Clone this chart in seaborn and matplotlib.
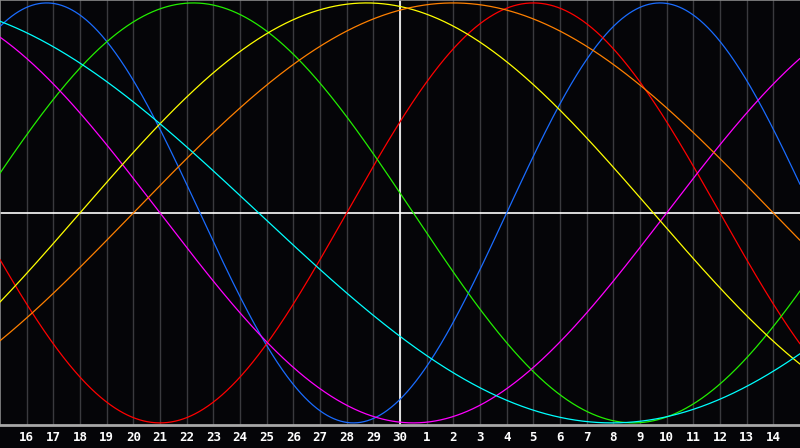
import numpy as np
import pandas as pd
import matplotlib
matplotlib.use("Agg")
import matplotlib.pyplot as plt
import seaborn as sns

# Biorhythm cycles (period in days, and day-in-cycle at the left edge of the chart)
cycles = ["Physical", "Emotional", "Intellectual", "Intuitive", "Aesthetic", "Awareness", "Spiritual"]
periods = [23, 28, 33, 38, 43, 48, 53]
phase_at_start = [4, 15, 1, 13, 40, 43, 16.8]
colors = ["#1a6cff", "#ff0000", "#22ee00", "#ff00ff", "#ffff00", "#ff8000", "#00ffff"]

day_labels = ["16", "17", "18", "19", "20", "21", "22", "23", "24", "25", "26", "27", "28", "29", "30",
              "1", "2", "3", "4", "5", "6", "7", "8", "9", "10", "11", "12", "13", "14"]
span_days = 30
today_index = 15

sns.set_theme(style="dark")
plt.rcParams["font.family"] = ["DejaVu Sans Mono", "DejaVu Sans"]

t = np.linspace(0, span_days, 1201)
rows = []
for name, p, ph in zip(cycles, periods, phase_at_start):
    v = np.sin(2 * np.pi * (ph + t) / p)
    rows.append(pd.DataFrame({"day": t, "value": v, "cycle": name}))
df = pd.concat(rows, ignore_index=True)

bg = "#050508"
fig = plt.figure(figsize=(8, 4.48), dpi=100, facecolor=bg)
ax = fig.add_axes([0, 23 / 448, 1, 425 / 448])
ax.set_facecolor(bg)

for i in range(1, span_days):
    ax.axvline(i, color="#3a3a3e", lw=1.0, zorder=1)
ax.axvline(today_index, color="white", lw=1.2, zorder=2)
ax.axhline(0, color="white", lw=1.2, zorder=2)

sns.lineplot(data=df, x="day", y="value", hue="cycle", palette=dict(zip(cycles, colors)),
             hue_order=cycles, linewidth=0.9, legend=False, ax=ax, zorder=3, estimator=None, sort=False)

ax.set_xlim(0, span_days)
ax.set_ylim(-1.01, 1.014)
ax.set_xticks(range(1, span_days))
ax.set_xticklabels(day_labels, color="white", fontsize=9, fontweight="bold")
ax.tick_params(axis="x", length=0, pad=4)
ax.set_yticks([])
ax.set_xlabel("")
ax.set_ylabel("")
ax.grid(False)
for s in ["right"]:
    ax.spines[s].set_visible(False)
for s in ["left", "top"]:
    ax.spines[s].set_color("#8a8a8a")
    ax.spines[s].set_linewidth(1.2)
ax.spines["bottom"].set_color("#a8a8a8")
ax.spines["bottom"].set_linewidth(2)

fig.savefig("out.png", dpi=100, facecolor=bg)
